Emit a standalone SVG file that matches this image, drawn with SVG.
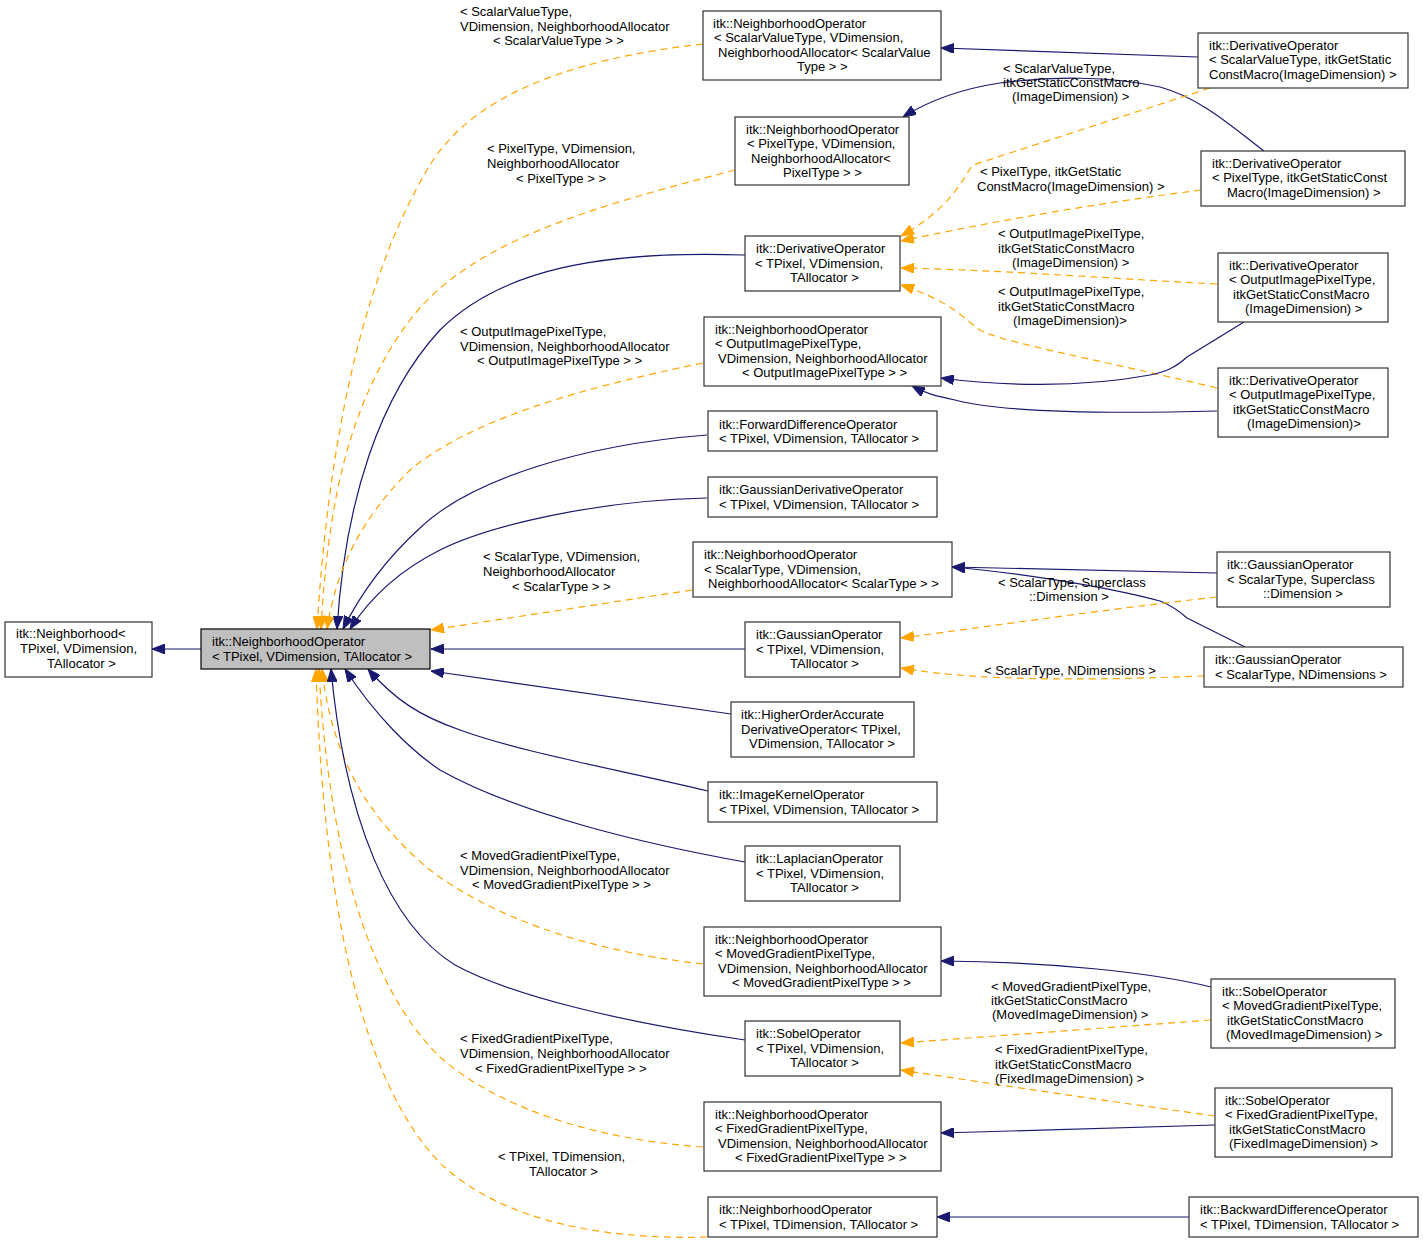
<svg xmlns="http://www.w3.org/2000/svg" width="1423" height="1245" viewBox="0 0 1423 1245">
<style>
text{font-family:"Liberation Sans",Arial,sans-serif;font-size:13px;fill:#000}
.n rect{fill:#fff;stroke:#333;stroke-width:1.2}
.main rect{fill:#bfbfbf;stroke:#000;stroke-width:1.2}
.e{fill:none;stroke:#191970;stroke-width:1.2;marker-end:url(#an)}
.t{fill:none;stroke:#ffa500;stroke-width:1.2;stroke-dasharray:7,5;marker-end:url(#ao)}
</style>
<defs>
<marker id="an" markerUnits="userSpaceOnUse" markerWidth="13" markerHeight="10" viewBox="0 0 13 10" refX="13" refY="5" orient="auto"><path d="M0,0 L13,5 L0,10 z" fill="#191970" stroke="#191970"/></marker>
<marker id="ao" markerUnits="userSpaceOnUse" markerWidth="13" markerHeight="10" viewBox="0 0 13 10" refX="13" refY="5" orient="auto"><path d="M0,0 L13,5 L0,10 z" fill="#ffa500" stroke="#ffa500"/></marker>
</defs>
<rect width="1423" height="1245" fill="#fff"/>

<g id="connectors">
<path class="e" d="M201,649 L152,649"/>
<path class="t" d="M703,44 C560,60 470,100 430,165 C360,280 328,450 317,629"/>
<path class="t" d="M735,170 C600,205 470,240 410,320 C350,400 328,500 321,629"/>
<path class="e" d="M745,255 C600,250 500,270 440,330 C380,395 345,500 337,629"/>
<path class="t" d="M703,363 C580,388 470,420 410,470 C360,520 336,570 327,629"/>
<path class="e" d="M707,435 C580,445 470,480 420,528 C385,560 360,595 343,629"/>
<path class="e" d="M707,498 C600,500 490,525 440,550 C400,570 370,598 350,629"/>
<path class="t" d="M692,590 L431,630"/>
<path class="e" d="M745,649 L431,649"/>
<path class="e" d="M731,714 L431,671"/>
<path class="e" d="M708,791 C620,770 520,752 460,730 C420,716 395,700 368,669"/>
<path class="e" d="M745,862 C650,845 520,815 440,770 C410,750 375,715 345,669"/>
<path class="t" d="M703,964 C580,950 490,915 430,870 C370,820 332,760 322,669"/>
<path class="e" d="M745,1040 C620,1022 510,995 455,965 C390,925 345,820 331,669"/>
<path class="t" d="M703,1147 C600,1140 500,1110 440,1057 C370,990 328,850 319,669"/>
<path class="t" d="M707,1237 C600,1240 500,1220 440,1163 C360,1080 323,900 316,669"/>

<path class="e" d="M1198,57 L941,48"/>
<path class="e" d="M1264,151 C1230,125 1200,98 1160,87 C1110,76 1050,76 1000,83 C960,89 930,100 903,117"/>
<path class="t" d="M1210,88 L973,165 C962,178 955,205 901,236"/>
<path class="t" d="M1201,190 C1100,203 1000,220 901,241"/>
<path class="t" d="M1217,284 C1100,278 1000,270 901,268"/>
<path class="t" d="M1217,388 C1100,360 1000,342 980,330 C965,320 955,303 901,285"/>
<path class="e" d="M1244,322 L1187,357 C1175,368 1165,372 1150,375 C1080,388 1000,386 941,378"/>
<path class="e" d="M1217,411 C1100,414 1000,412 955,400 C935,396 925,393 912,386"/>
<path class="e" d="M1217,573 C1100,570 1000,568 952,567"/>
<path class="e" d="M1245,647 L1187,618 C1178,610 1170,605 1160,601 C1100,585 1010,572 952,567"/>
<path class="t" d="M1217,597 C1100,610 1000,625 901,638"/>
<path class="t" d="M1204,676 C1100,680 980,682 901,668"/>
<path class="e" d="M1211,987 C1150,972 1050,962 941,961"/>
<path class="t" d="M1211,1020 L901,1043"/>
<path class="t" d="M1215,1116 C1100,1100 1000,1085 901,1070"/>
<path class="e" d="M1215,1125 L941,1133"/>
<path class="e" d="M1189,1217 L937,1217"/>
</g>

<g id="edge-labels">
<text x="460" y="16">&lt; ScalarValueType,</text>
<text x="460" y="30.5">VDimension, NeighborhoodAllocator</text>
<text x="493" y="45">&lt; ScalarValueType &gt; &gt;</text>
<text x="487" y="153">&lt; PixelType, VDimension,</text>
<text x="487" y="168">NeighborhoodAllocator</text>
<text x="516" y="183">&lt; PixelType &gt; &gt;</text>
<text x="460" y="336">&lt; OutputImagePixelType,</text>
<text x="460" y="351">VDimension, NeighborhoodAllocator</text>
<text x="477" y="365">&lt; OutputImagePixelType &gt; &gt;</text>
<text x="483" y="560.5">&lt; ScalarType, VDimension,</text>
<text x="483" y="576">NeighborhoodAllocator</text>
<text x="512" y="591">&lt; ScalarType &gt; &gt;</text>
<text x="460" y="859.5">&lt; MovedGradientPixelType,</text>
<text x="460" y="874.5">VDimension, NeighborhoodAllocator</text>
<text x="472" y="889">&lt; MovedGradientPixelType &gt; &gt;</text>
<text x="460" y="1043">&lt; FixedGradientPixelType,</text>
<text x="460" y="1058">VDimension, NeighborhoodAllocator</text>
<text x="475" y="1073">&lt; FixedGradientPixelType &gt; &gt;</text>
<text x="498" y="1161">&lt; TPixel, TDimension,</text>
<text x="529" y="1176">TAllocator &gt;</text>
<text x="1003" y="73">&lt; ScalarValueType,</text>
<text x="1003" y="87">itkGetStaticConstMacro</text>
<text x="1012" y="101">(ImageDimension) &gt;</text>
<text x="980" y="176">&lt; PixelType, itkGetStatic</text>
<text x="977" y="190.5">ConstMacro(ImageDimension) &gt;</text>
<text x="998" y="238">&lt; OutputImagePixelType,</text>
<text x="998" y="253">itkGetStaticConstMacro</text>
<text x="1012" y="267">(ImageDimension) &gt;</text>
<text x="998" y="295.5">&lt; OutputImagePixelType,</text>
<text x="998" y="311">itkGetStaticConstMacro</text>
<text x="1013" y="324.5">(ImageDimension)&gt;</text>
<text x="998" y="587">&lt; ScalarType, Superclass</text>
<text x="1029" y="601">::Dimension &gt;</text>
<text x="984" y="674.5">&lt; ScalarType, NDimensions &gt;</text>
<text x="991" y="990.5">&lt; MovedGradientPixelType,</text>
<text x="991" y="1004.5">itkGetStaticConstMacro</text>
<text x="992" y="1018.5">(MovedImageDimension) &gt;</text>
<text x="995" y="1054">&lt; FixedGradientPixelType,</text>
<text x="995" y="1068.5">itkGetStaticConstMacro</text>
<text x="995" y="1083">(FixedImageDimension) &gt;</text>
</g>

<g id="n_neighborhood" class="n"><rect x="5" y="622" width="147" height="55"/>
<text x="16" y="638">itk::Neighborhood&lt;</text><text x="20" y="653">TPixel, VDimension,</text><text x="47" y="667.5">TAllocator &gt;</text></g>
<g id="n_main" class="main"><rect x="201" y="629" width="229" height="40"/>
<text x="212" y="646">itk::NeighborhoodOperator</text><text x="212" y="661">&lt; TPixel, VDimension, TAllocator &gt;</text></g>

<g id="n_no_scalarvalue" class="n"><rect x="703" y="11" width="238" height="69"/>
<text x="713" y="27.5">itk::NeighborhoodOperator</text><text x="714" y="42">&lt; ScalarValueType, VDimension,</text><text x="718" y="56.5">NeighborhoodAllocator&lt; ScalarValue</text><text x="797" y="71">Type &gt; &gt;</text></g>
<g id="n_no_pixel" class="n"><rect x="735" y="117" width="174" height="68"/>
<text x="746" y="133.5">itk::NeighborhoodOperator</text><text x="747" y="148">&lt; PixelType, VDimension,</text><text x="751" y="162.5">NeighborhoodAllocator&lt;</text><text x="783" y="177">PixelType &gt; &gt;</text></g>
<g id="n_deriv_tpixel" class="n"><rect x="745" y="236" width="155" height="55"/>
<text x="756" y="253">itk::DerivativeOperator</text><text x="755" y="267.5">&lt; TPixel, VDimension,</text><text x="790" y="282">TAllocator &gt;</text></g>
<g id="n_no_output" class="n"><rect x="704" y="317" width="237" height="69"/>
<text x="715" y="333.5">itk::NeighborhoodOperator</text><text x="715" y="348">&lt; OutputImagePixelType,</text><text x="718" y="362.5">VDimension, NeighborhoodAllocator</text><text x="742" y="377">&lt; OutputImagePixelType &gt; &gt;</text></g>
<g id="n_forward" class="n"><rect x="708" y="411" width="229" height="40"/>
<text x="719" y="428.5">itk::ForwardDifferenceOperator</text><text x="719" y="443">&lt; TPixel, VDimension, TAllocator &gt;</text></g>
<g id="n_gaussderiv" class="n"><rect x="708" y="477" width="229" height="40"/>
<text x="719" y="494">itk::GaussianDerivativeOperator</text><text x="719" y="508.5">&lt; TPixel, VDimension, TAllocator &gt;</text></g>
<g id="n_no_scalar" class="n"><rect x="693" y="542" width="259" height="55"/>
<text x="704" y="559">itk::NeighborhoodOperator</text><text x="704" y="573.5">&lt; ScalarType, VDimension,</text><text x="708" y="588">NeighborhoodAllocator&lt; ScalarType &gt; &gt;</text></g>
<g id="n_gauss_tpixel" class="n"><rect x="745" y="622" width="155" height="55"/>
<text x="756" y="639">itk::GaussianOperator</text><text x="756" y="653.5">&lt; TPixel, VDimension,</text><text x="790" y="668">TAllocator &gt;</text></g>
<g id="n_higher" class="n"><rect x="731" y="702" width="183" height="55"/>
<text x="741" y="719">itk::HigherOrderAccurate</text><text x="741" y="733.5">DerivativeOperator&lt; TPixel,</text><text x="749" y="748">VDimension, TAllocator &gt;</text></g>
<g id="n_imagekernel" class="n"><rect x="708" y="782" width="229" height="40"/>
<text x="719" y="799">itk::ImageKernelOperator</text><text x="719" y="813.5">&lt; TPixel, VDimension, TAllocator &gt;</text></g>
<g id="n_laplacian" class="n"><rect x="745" y="846" width="155" height="55"/>
<text x="756" y="863">itk::LaplacianOperator</text><text x="756" y="877.5">&lt; TPixel, VDimension,</text><text x="790" y="892">TAllocator &gt;</text></g>
<g id="n_no_moved" class="n"><rect x="704" y="927" width="237" height="69"/>
<text x="715" y="943.5">itk::NeighborhoodOperator</text><text x="715" y="958">&lt; MovedGradientPixelType,</text><text x="718" y="972.5">VDimension, NeighborhoodAllocator</text><text x="732" y="987">&lt; MovedGradientPixelType &gt; &gt;</text></g>
<g id="n_sobel_tpixel" class="n"><rect x="745" y="1021" width="155" height="55"/>
<text x="756" y="1038">itk::SobelOperator</text><text x="756" y="1052.5">&lt; TPixel, VDimension,</text><text x="790" y="1067">TAllocator &gt;</text></g>
<g id="n_no_fixed" class="n"><rect x="704" y="1102" width="237" height="69"/>
<text x="715" y="1118.5">itk::NeighborhoodOperator</text><text x="715" y="1133">&lt; FixedGradientPixelType,</text><text x="718" y="1147.5">VDimension, NeighborhoodAllocator</text><text x="735" y="1162">&lt; FixedGradientPixelType &gt; &gt;</text></g>
<g id="n_no_tdim" class="n"><rect x="708" y="1197" width="229" height="40"/>
<text x="719" y="1214">itk::NeighborhoodOperator</text><text x="719" y="1228.5">&lt; TPixel, TDimension, TAllocator &gt;</text></g>

<g id="n_deriv_scalarvalue" class="n"><rect x="1198" y="33" width="210" height="55"/>
<text x="1209" y="49.5">itk::DerivativeOperator</text><text x="1209" y="64">&lt; ScalarValueType, itkGetStatic</text><text x="1209" y="78.5">ConstMacro(ImageDimension) &gt;</text></g>
<g id="n_deriv_pixel" class="n"><rect x="1201" y="151" width="204" height="55"/>
<text x="1212" y="167.5">itk::DerivativeOperator</text><text x="1212" y="182">&lt; PixelType, itkGetStaticConst</text><text x="1227" y="196.5">Macro(ImageDimension) &gt;</text></g>
<g id="n_deriv_output1" class="n"><rect x="1218" y="253" width="170" height="69"/>
<text x="1229" y="269.5">itk::DerivativeOperator</text><text x="1229" y="284">&lt; OutputImagePixelType,</text><text x="1233" y="298.5">itkGetStaticConstMacro</text><text x="1245" y="313">(ImageDimension) &gt;</text></g>
<g id="n_deriv_output2" class="n"><rect x="1218" y="368" width="170" height="69"/>
<text x="1229" y="384.5">itk::DerivativeOperator</text><text x="1229" y="399">&lt; OutputImagePixelType,</text><text x="1233" y="413.5">itkGetStaticConstMacro</text><text x="1247" y="428">(ImageDimension)&gt;</text></g>
<g id="n_gauss_super" class="n"><rect x="1217" y="552" width="173" height="55"/>
<text x="1227" y="569">itk::GaussianOperator</text><text x="1227" y="583.5">&lt; ScalarType, Superclass</text><text x="1263" y="598">::Dimension &gt;</text></g>
<g id="n_gauss_ndim" class="n"><rect x="1204" y="647" width="199" height="40"/>
<text x="1215" y="664">itk::GaussianOperator</text><text x="1215" y="678.5">&lt; ScalarType, NDimensions &gt;</text></g>
<g id="n_sobel_moved" class="n"><rect x="1211" y="979" width="184" height="69"/>
<text x="1222" y="995.5">itk::SobelOperator</text><text x="1222" y="1010">&lt; MovedGradientPixelType,</text><text x="1227" y="1024.5">itkGetStaticConstMacro</text><text x="1226" y="1039">(MovedImageDimension) &gt;</text></g>
<g id="n_sobel_fixed" class="n"><rect x="1215" y="1088" width="177" height="69"/>
<text x="1225" y="1104.5">itk::SobelOperator</text><text x="1225" y="1119">&lt; FixedGradientPixelType,</text><text x="1229" y="1133.5">itkGetStaticConstMacro</text><text x="1229" y="1148">(FixedImageDimension) &gt;</text></g>
<g id="n_backward" class="n"><rect x="1189" y="1197" width="229" height="40"/>
<text x="1200" y="1214">itk::BackwardDifferenceOperator</text><text x="1200" y="1228.5">&lt; TPixel, TDimension, TAllocator &gt;</text></g>
</svg>
